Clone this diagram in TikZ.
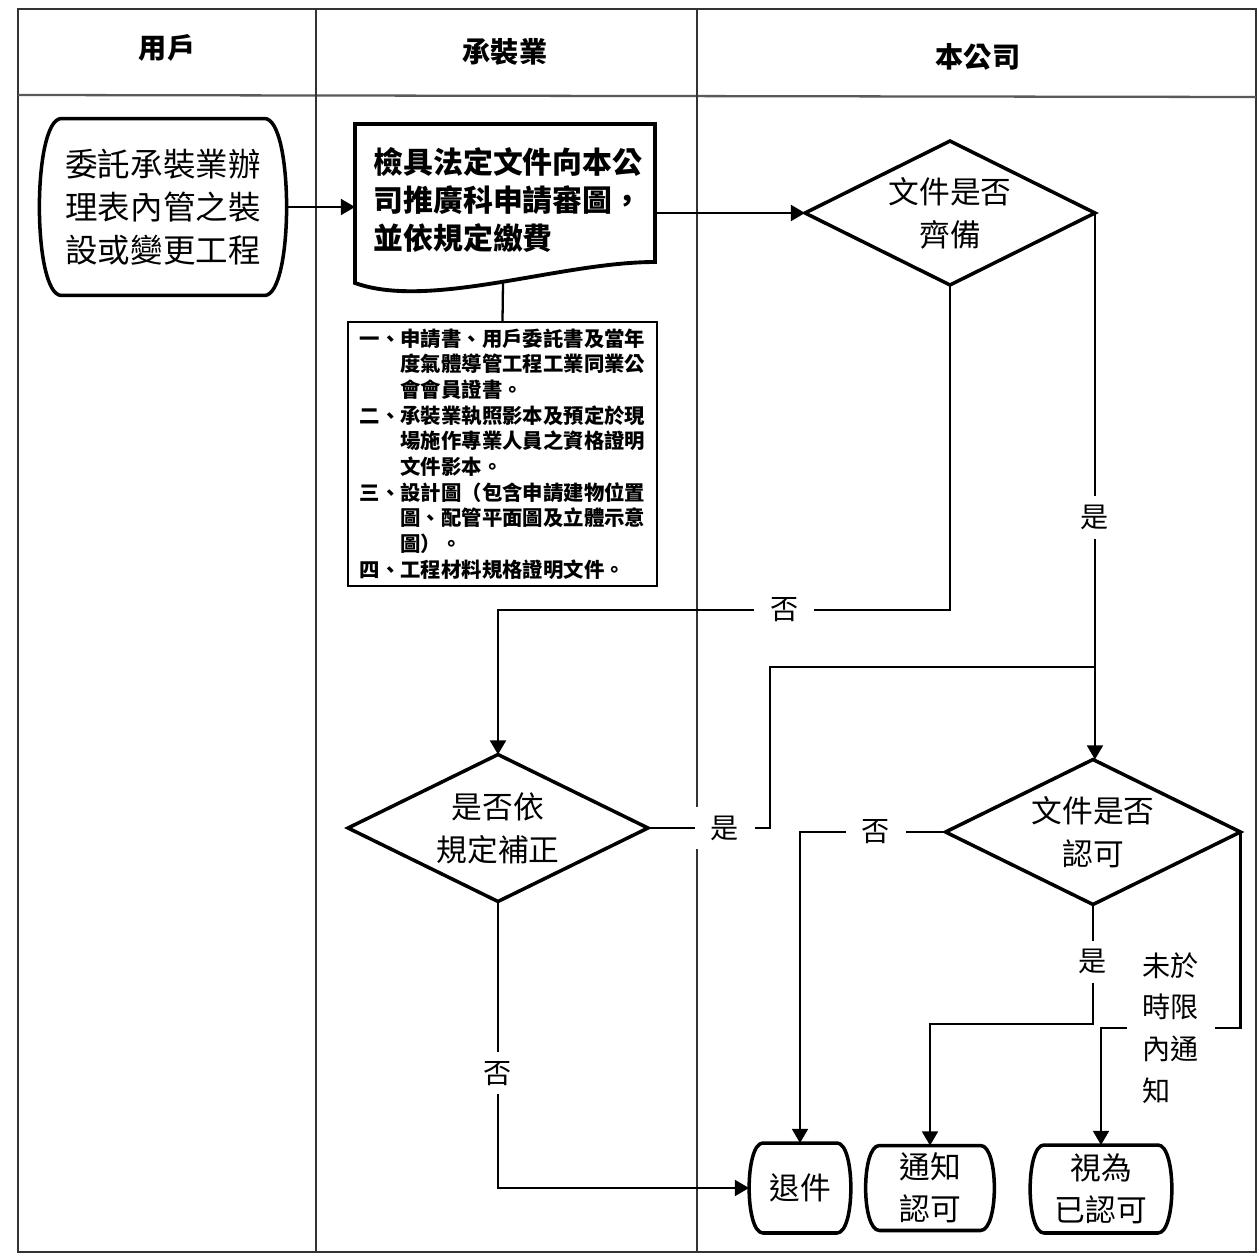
\documentclass[tikz,border=0pt]{standalone}
\usepackage{fontspec}
\setmainfont{Noto Sans CJK TC}
\usetikzlibrary{shapes.geometric,arrows.meta}
\newcommand\termshape[3]{\draw[line width=2pt, line join=round] ([xshift=#2]#1.north west) -- ([xshift=-#2]#1.north east) .. controls +(#3,0) and +(#3,0) .. ([xshift=-#2]#1.south east) -- ([xshift=#2]#1.south west) .. controls +(-#3,0) and +(-#3,0) .. ([xshift=#2]#1.north west) -- cycle;}
\begin{document}
\begin{tikzpicture}[x=0.02cm,y=-0.02cm,
  lane/.style={line width=0.9pt, draw=black!80},
  hdr/.style={font=\bfseries\fontsize{16}{19}\selectfont},
  term/.style={rectangle, inner sep=0pt, outer sep=0pt, align=center, font=\fontsize{17.5}{24}\selectfont},
  dec/.style={diamond, aspect=2, draw, line width=2pt, inner sep=0pt, outer sep=0pt, align=center, font=\fontsize{17.5}{24.4}\selectfont},
  conn/.style={line width=1.3pt},
  arr/.style={conn, -{Triangle[width=9pt,length=8pt]}},
  lbl/.style={fill=white, inner xsep=9pt, inner ysep=5pt, font=\fontsize{16}{23.8}\selectfont},
]
\useasboundingbox (0,0) rectangle (1259,1257);
% frame
\draw[lane] (18,9) rectangle (1256,1252);
\draw[lane, line width=1.3pt, draw=black!65] (18,95) -- (1256,97);
\draw[lane] (316,9) -- (316,1252);
\draw[lane] (697,9) -- (697,1252);
\node[hdr] (h1) at (167,48) {用戶};
\node[hdr] (h2) at (505,52) {承裝業};
\node[hdr] (h3) at (978,57) {本公司};
% start
\node[term, minimum width=4.94cm, minimum height=3.54cm, font=\fontsize{18.5}{24.4}\selectfont] (start) at (163,207) {委託承裝業辦\\理表內管之裝\\設或變更工程};
\termshape{start}{0.44cm}{0.59cm}
% document
\node[minimum width=6cm, minimum height=3.18cm, inner sep=0pt, outer sep=0pt] (doc) at (505,203) {};
\draw[line width=2.2pt, line join=miter] (355,283) -- (355,124) -- (655,124) -- (655,262) .. controls (560,262) and (430,310) .. (355,283) -- cycle;
\node[align=left, font=\bfseries\fontsize{17}{21.5}\selectfont, inner sep=0pt] (doctxt) at (508,200) {檢具法定文件向本公\\司推廣科申請審圖，\\並依規定繳費};
\coordinate (docb) at (503,283);
% note
\node[draw, line width=1pt, minimum width=6.18cm, minimum height=5.28cm, align=left, inner sep=0pt, font=\bfseries\fontsize{11.6}{14.6}\selectfont] (note) at (502.5,454) {一、申請書、用戶委託書及當年\\\hspace*{2em}度氣體導管工程工業同業公\\\hspace*{2em}會會員證書。\\二、承裝業執照影本及預定於現\\\hspace*{2em}場施作專業人員之資格證明\\\hspace*{2em}文件影本。\\三、設計圖（包含申請建物位置\\\hspace*{2em}圖、配管平面圖及立體示意\\\hspace*{2em}圖）。\\四、工程材料規格證明文件。};
% decisions
\node[dec, minimum width=5.8cm, minimum height=2.88cm] (d1) at (950,213) {文件是否\\齊備};
\node[dec, minimum width=6cm, minimum height=2.94cm] (d2) at (498,828) {是否依\\規定補正};
\node[dec, minimum width=5.9cm, minimum height=2.9cm] (d3) at (1093,832) {文件是否\\認可};
% terminals
\node[term, minimum width=2.04cm, minimum height=1.8cm] (r1) at (800,1188) {退件};
\termshape{r1}{0.28cm}{0.37cm}
\node[term, minimum width=2.58cm, minimum height=1.7cm] (r2) at (930,1188) {通知\\認可};
\termshape{r2}{0.28cm}{0.37cm}
\node[term, minimum width=2.84cm, minimum height=1.76cm] (r3) at (1101,1189) {視為\\已認可};
\termshape{r3}{0.28cm}{0.37cm}
% helper coordinates
\coordinate (y610) at (0,610);
\coordinate (j1) at (770,667);
\coordinate (j2) at (930,1024);
\coordinate (j3) at (1101,1028);
% connectors
\draw[arr] (start.east) -- (start.east -| doc.west);
\draw[conn] (docb) -- (note.north);
\draw[arr] (doc.east |- d1.west) -- (d1.west);
\draw[arr] (d1.south) -- (d1.south |- y610) -- node[lbl,pos=0.367]{否} (d2.north |- y610) -- (d2.north);
\draw[arr] (d1.east) -- node[lbl,pos=0.557]{是} (d1.east |- d3.north);
\draw[conn] (d2.east) -- node[lbl,pos=0.63]{是} (d2.east -| j1) -- (j1) -- (j1 -| d1.east);
\draw[arr] (d2.south) -- node[lbl,pos=0.6]{否} (d2.south |- r1.west) -- (r1.west);
\draw[arr] (d3.west) -- node[lbl,pos=0.48]{否} (d3.west -| r1.north) -- (r1.north);
\draw[arr] (d3.south) -- node[lbl,pos=0.48]{是} (d3.south |- j2) -- (j2) -- (r2.north);
\draw[arr] (d3.east) -- (d3.east |- j3) -- node[lbl,pos=0.5,align=left]{未於\\時限\\內通\\知} (j3) -- (r3.north);
\end{tikzpicture}
\end{document}
